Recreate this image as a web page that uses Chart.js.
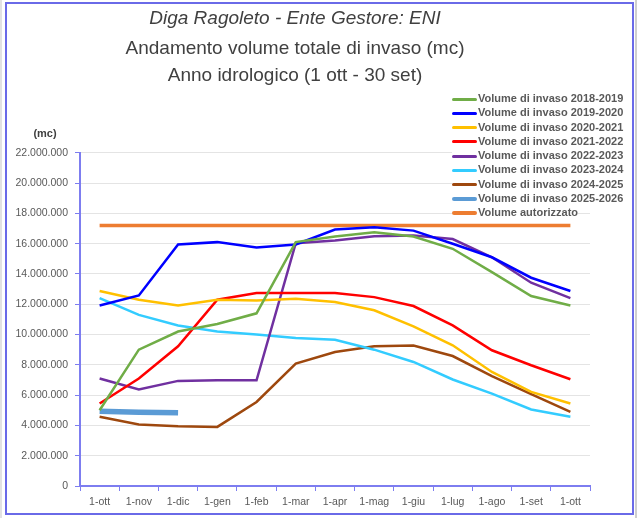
<!DOCTYPE html>
<html lang="it">
<head>
<meta charset="utf-8">
<title>Diga Ragoleto - volume di invaso</title>
<script src="https://cdn.jsdelivr.net/npm/chart.js@4.4.1/dist/chart.umd.min.js"></script>
<style>
  html, body { margin: 0; padding: 0; background: #fff; }
  #wrap { position: relative; width: 637px; height: 518px; overflow: hidden; }
  #chart { position: absolute; left: 0; top: 0; }
  #frame {
    position: absolute; left: 5px; top: 2px; width: 625px; height: 509px;
    border: 2px solid #6a6ae8; pointer-events: none;
  }
  #edgeL { position: absolute; left: 0; top: 0; width: 2px; height: 518px; background: #e2e2e2; }
  #edgeR { position: absolute; left: 635px; top: 0; width: 2px; height: 518px; background: #cfcfcf; }
  #legend {
    position: absolute; left: 452px; top: 91px;
    font: bold 11px "Liberation Sans", Arial, sans-serif; color: #595959;
  }
  .item { height: 14.3px; line-height: 14.3px; white-space: nowrap; }
  .item span { background: #fff; display: inline-block; }
  .swatch { display: inline-block; width: 25px; vertical-align: middle; margin-right: 1px; }
</style>
</head>
<body>
<div id="wrap">
  <canvas id="chart" width="637" height="518"></canvas>
  <div id="legend"></div>
  <div id="edgeL"></div>
  <div id="edgeR"></div>
  <div id="frame"></div>
</div>
<script>
// Dati
const mesi = ["1-ott", "1-nov", "1-dic", "1-gen", "1-feb", "1-mar", "1-apr",
  "1-mag", "1-giu", "1-lug", "1-ago", "1-set", "1-ott"];

const invaso2018 = [5000000, 9000000, 10200000, 10700000, 11400000, 16100000, 16470000,
  16750000, 16470000, 15660000, 14120000, 12540000, 11920000];
const invaso2019 = [11920000, 12580000, 15940000, 16100000, 15740000, 15950000, 16930000,
  17080000, 16860000, 15990000, 15100000, 13750000, 12870000];
const invaso2020 = [12870000, 12300000, 11920000, 12300000, 12250000, 12360000, 12140000,
  11600000, 10540000, 9290000, 7530000, 6210000, 5450000];
const invaso2021 = [5450000, 7100000, 9220000, 12300000, 12740000, 12740000, 12740000,
  12470000, 11880000, 10600000, 8960000, 7970000, 7050000];
const invaso2022 = [7100000, 6370000, 6940000, 6980000, 6980000, 16030000, 16200000,
  16490000, 16530000, 16300000, 15100000, 13420000, 12400000];
const invaso2023 = [12400000, 11300000, 10600000, 10200000, 10000000, 9770000, 9660000,
  9000000, 8190000, 7030000, 6100000, 5050000, 4570000];
const invaso2024 = [4570000, 4060000, 3950000, 3900000, 5550000, 8080000, 8850000,
  9220000, 9270000, 8580000, 7250000, 6060000, 4900000];
const invaso2025 = [4940000, 4870000, 4830000];
const autorizzato = [17200000, 17200000, 17200000, 17200000, 17200000, 17200000, 17200000,
  17200000, 17200000, 17200000, 17200000, 17200000, 17200000];

const yMax = 22000000;
const yStep = 2000000;

// Formattazione numeri con il punto delle migliaia
const formatta = (v) => String(v).replace(/\B(?=(\d{3})+(?!\d))/g, ".");

const serie = (label, data, color, width) => ({
  label: label,
  data: data,
  borderColor: color,
  backgroundColor: color,
  borderWidth: width,
  pointRadius: 0,
  tension: 0,
  fill: false,
});

const blu = "#7d7df0";
const testo = "#595959";

// Etichetta "(mc)" sopra l'asse
const etichettaMc = {
  id: "etichettaMc",
  afterDraw(chart) {
    const ctx = chart.ctx;
    const area = chart.chartArea;
    ctx.save();
    ctx.font = "bold 11px 'Liberation Sans', Arial, sans-serif";
    ctx.fillStyle = "#404040";
    ctx.textAlign = "center";
    ctx.textBaseline = "middle";
    ctx.fillText("(mc)", area.left - 35, area.top - 19);
    ctx.restore();
  },
};

const ctx = document.querySelector("#chart").getContext("2d");
const chart = new Chart(ctx, {
  type: "line",
  data: {
    labels: mesi,
    datasets: [
      serie("Volume di invaso 2018-2019", invaso2018, "#70ad47", 2.5),
      serie("Volume di invaso 2019-2020", invaso2019, "#0000ff", 2.5),
      serie("Volume di invaso 2020-2021", invaso2020, "#ffc000", 2.5),
      serie("Volume di invaso 2021-2022", invaso2021, "#ff0000", 2.5),
      serie("Volume di invaso 2022-2023", invaso2022, "#7030a0", 2.5),
      serie("Volume di invaso 2023-2024", invaso2023, "#33ccff", 2.5),
      serie("Volume di invaso 2024-2025", invaso2024, "#9e480e", 2.5),
      serie("Volume di invaso 2025-2026", invaso2025, "#5b9bd5", 5.5),
      serie("Volume autorizzato", autorizzato, "#ed7d31", 3.5),
    ],
  },
  options: {
    responsive: false,
    animation: false,
    layout: { padding: { left: 0, right: 47, top: 0, bottom: 0 } },
    plugins: {
      legend: { display: false },
      tooltip: { enabled: false },
      title: {
        display: true,
        text: "Diga Ragoleto - Ente Gestore: ENI",
        color: "#404040",
        font: { family: "'Liberation Sans', Arial, sans-serif", size: 19, style: "italic", weight: "normal", lineHeight: 1.2 },
        padding: { top: 7, bottom: 5 },
      },
      subtitle: {
        display: true,
        text: ["Andamento volume totale di invaso (mc)", "Anno idrologico (1 ott - 30 set)"],
        color: "#404040",
        font: { family: "'Liberation Sans', Arial, sans-serif", size: 19, weight: "normal", lineHeight: 1.42 },
        padding: { top: 0, bottom: 64 },
      },
    },
    scales: {
      x: {
        offset: true,
        grid: { display: true, drawOnChartArea: false, offset: true, tickLength: 5, tickColor: blu },
        border: { color: blu, width: 2 },
        ticks: { color: testo, font: { family: "'Liberation Sans', Arial, sans-serif", size: 10.5 }, padding: 5, maxRotation: 0 },
        afterFit: (scale) => { scale.height = 32; },
      },
      y: {
        min: 0,
        max: yMax,
        ticks: {
          stepSize: yStep,
          color: testo,
          padding: 7,
          font: { family: "'Liberation Sans', Arial, sans-serif", size: 10.5 },
          callback: (v) => formatta(v),
        },
        grid: { color: "#e4e4e4", lineWidth: 1, tickLength: 5, tickColor: blu },
        border: { color: blu, width: 2 },
        afterFit: (scale) => { scale.width = 80; },
      },
    },
  },
  plugins: [etichettaMc],
});

// Legenda in HTML sopra l'area del grafico
const legend = document.querySelector("#legend");
chart.data.datasets.forEach((ds) => {
  const row = document.createElement("div");
  row.classList.add("item");
  const span = document.createElement("span");
  const sw = document.createElement("i");
  sw.classList.add("swatch");
  sw.style.height = (ds.borderWidth >= 3.5 ? 4 : 3) + "px";
  sw.style.background = ds.borderColor;
  sw.style.borderRadius = "2px";
  span.appendChild(sw);
  span.appendChild(document.createTextNode(ds.label));
  row.appendChild(span);
  legend.appendChild(row);
});
</script>
</body>
</html>
